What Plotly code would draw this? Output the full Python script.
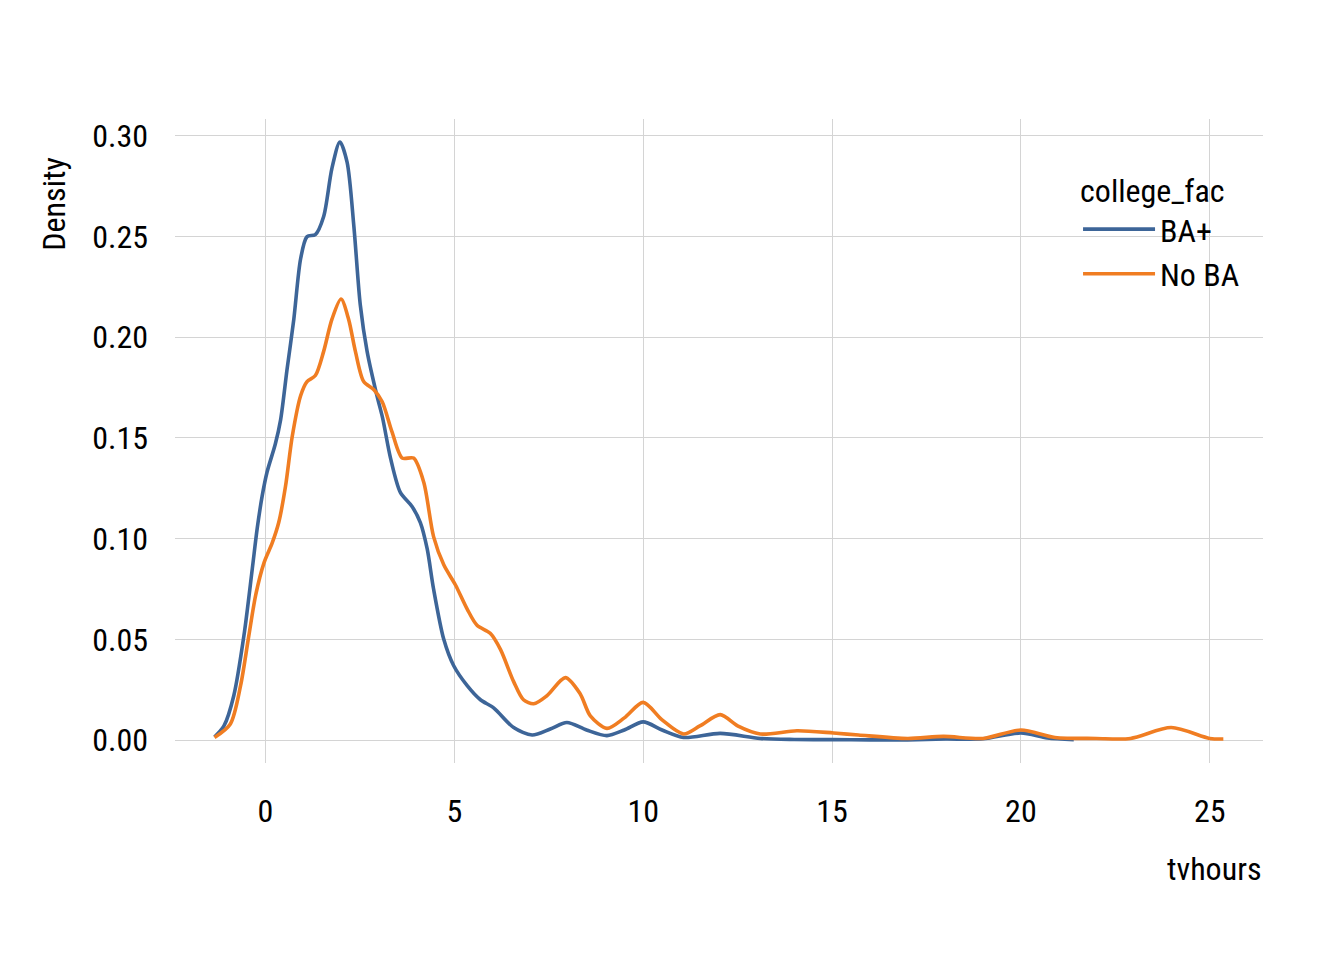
import plotly.graph_objects as go

# tvhours density
ba_x = [-1.35, -1.10, -0.84, -0.57, -0.35, -0.22, -0.09, 0.04, 0.26, 0.40, 0.57, 0.75, 0.93,
        1.10, 1.32, 1.54, 1.76, 1.97, 2.16, 2.34, 2.51, 2.69, 2.95, 3.10, 3.31, 3.57, 3.88,
        4.10, 4.28, 4.45, 4.72, 4.98, 5.34, 5.69, 6.04, 6.57, 7.06, 7.54, 7.98, 8.50, 9.04,
        9.50, 10.0, 10.5, 11.07, 12.04, 13.1, 14.0, 15.0, 16.0, 17.0, 18.0, 19.0, 20.0, 20.7, 21.4]
ba_y = [0.0015, 0.007, 0.022, 0.052, 0.085, 0.105, 0.121, 0.133, 0.147, 0.159, 0.184, 0.209, 0.239,
        0.250, 0.251, 0.260, 0.284, 0.297, 0.287, 0.255, 0.216, 0.193, 0.171, 0.160, 0.140, 0.123, 0.116,
        0.108, 0.095, 0.075, 0.050, 0.037, 0.027, 0.020, 0.016, 0.0062, 0.0025, 0.0055, 0.0087, 0.005, 0.0022,
        0.005, 0.009, 0.005, 0.0013, 0.0033, 0.0008, 0.0003, 0.0002, 0.0001, 0.0001, 0.0005, 0.0006, 0.0035, 0.001, 0.0002]

noba_x = [-1.35, -0.93, -0.66, -0.44, -0.26, -0.04, 0.18, 0.35, 0.53, 0.71, 0.93, 1.10, 1.32,
          1.54, 1.76, 2.00, 2.20, 2.38, 2.60, 2.87, 3.09, 3.35, 3.62, 3.92, 4.19, 4.45, 4.72,
          5.03, 5.34, 5.60, 5.95, 6.22, 6.57, 6.83, 7.10, 7.45, 7.94, 8.33, 8.60, 9.04, 9.50,
          10.0, 10.5, 11.07, 11.5, 12.04, 12.5, 13.1, 14.07, 15.04, 15.7, 17.0, 17.95, 19.0,
          20.0, 20.9, 22.0, 22.9, 23.98, 25.0, 25.36]
noba_y = [0.0013, 0.008, 0.027, 0.052, 0.072, 0.088, 0.098, 0.108, 0.126, 0.151, 0.171, 0.178, 0.181,
          0.193, 0.209, 0.219, 0.209, 0.193, 0.178, 0.174, 0.168, 0.153, 0.140, 0.140, 0.128, 0.101, 0.087,
          0.077, 0.065, 0.057, 0.053, 0.045, 0.029, 0.020, 0.018, 0.022, 0.031, 0.023, 0.012, 0.0058, 0.011,
          0.0187, 0.010, 0.003, 0.007, 0.0126, 0.007, 0.003, 0.0046, 0.0035, 0.0025, 0.0008, 0.0018, 0.0008,
          0.005, 0.0013, 0.0008, 0.0008, 0.0062, 0.0008, 0.0005]

x_ticks = [0, 5, 10, 15, 20, 25]
y_ticks = [0.00, 0.05, 0.10, 0.15, 0.20, 0.25, 0.30]
y_tick_labels = ["0.00", "0.05", "0.10", "0.15", "0.20", "0.25", "0.30"]

FONT = "Roboto Condensed, Liberation Sans Narrow, DejaVu Sans Condensed, sans-serif"
FS = 32
BLUE = "#3D6598"
ORANGE = "#F07D22"

fig = go.Figure()
fig.add_trace(go.Scatter(x=ba_x, y=ba_y, mode="lines", name="BA+",
                         line=dict(color=BLUE, width=3.6, shape="spline", smoothing=0.8)))
fig.add_trace(go.Scatter(x=noba_x, y=noba_y, mode="lines", name="No BA",
                         line=dict(color=ORANGE, width=3.6, shape="spline", smoothing=0.8)))

fig.update_layout(
    width=1344, height=960,
    margin=dict(l=167, r=89, t=111, b=205),
    paper_bgcolor="white", plot_bgcolor="white",
    font=dict(family=FONT, size=FS, color="black"),
    showlegend=True,
    legend=dict(
        title=dict(text="college_fac", font=dict(size=FS)),
        font=dict(size=FS),
        x=0.83, xanchor="left", y=0.936, yanchor="top",
        bgcolor="rgba(0,0,0,0)", itemwidth=72,
    ),
    xaxis=dict(
        range=[-2.396, 26.41], tickvals=x_ticks, ticktext=[str(v) for v in x_ticks],
        showgrid=True, gridcolor="#D4D4D4", gridwidth=1, zeroline=False, showline=False,
        ticks="", ticklabelstandoff=26, tickfont=dict(size=FS),
    ),
    yaxis=dict(
        range=[-0.0114, 0.3084], tickvals=y_ticks, ticktext=y_tick_labels,
        showgrid=True, gridcolor="#D4D4D4", gridwidth=1, zeroline=False, showline=False,
        ticks="", ticklabelstandoff=26, tickfont=dict(size=FS),
    ),
    annotations=[
        dict(text="tvhours", xref="paper", yref="paper", x=1.0, y=-0.165,
             xanchor="right", yanchor="middle", showarrow=False, font=dict(size=FS)),
        dict(text="Density", xref="paper", yref="paper", x=-0.111, y=0.945,
             xanchor="center", yanchor="top", textangle=-90, showarrow=False, font=dict(size=FS)),
    ],
)

fig.write_html("out.html")
